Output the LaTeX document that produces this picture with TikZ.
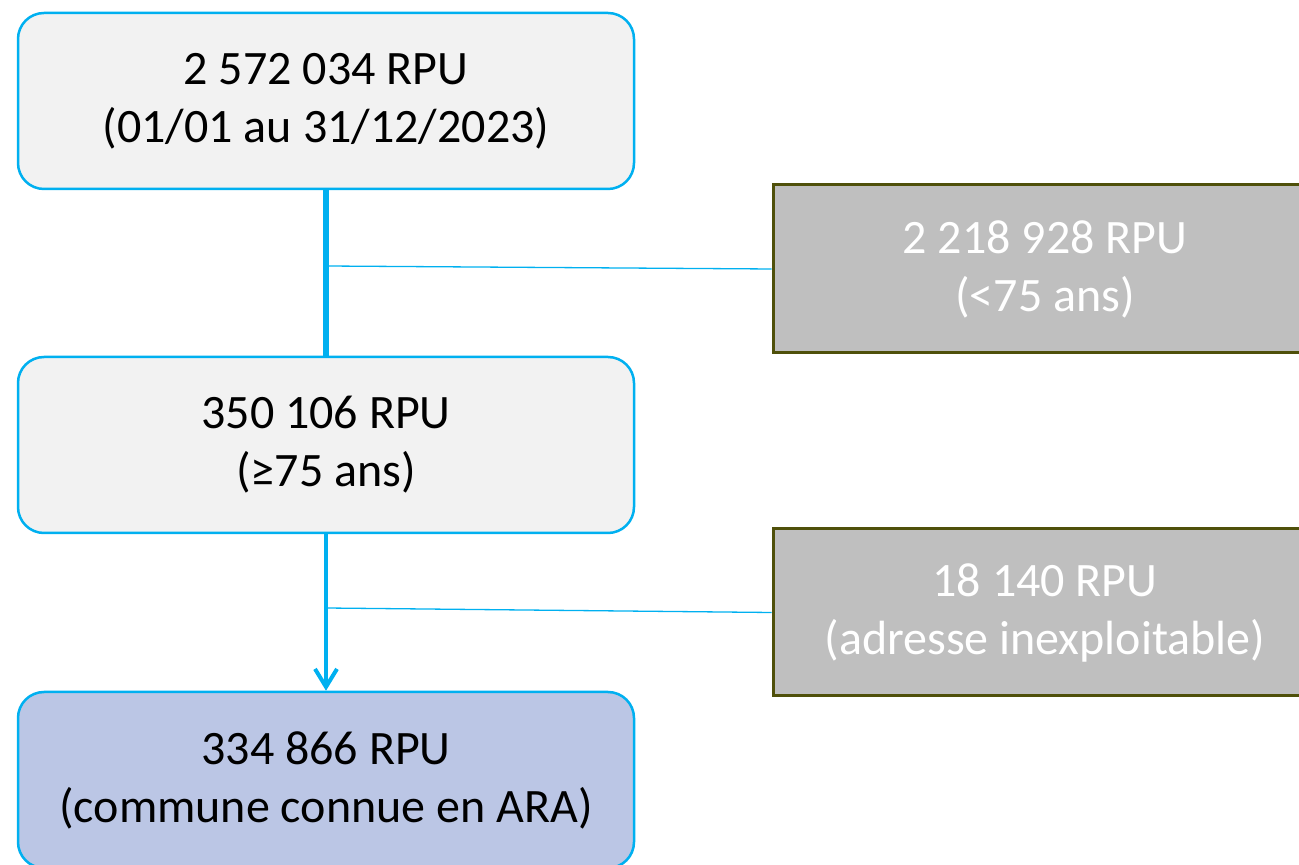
\documentclass[tikz,border=0pt]{standalone}
\usepackage{fontspec}
\setmainfont{Carlito}
\usetikzlibrary{arrows.meta}
\definecolor{cblue}{RGB}{0,176,240}
\definecolor{lightfill}{RGB}{242,242,242}
\definecolor{bluefill}{RGB}{187,198,229}
\definecolor{greyfill}{RGB}{191,191,191}
\definecolor{olive}{RGB}{79,80,10}
\tikzset{
  x=1pt, y=1pt,
  mainbox/.style={draw=cblue, line width=2.5pt, rounded corners=26pt, minimum width=616pt, minimum height=176pt, align=center, inner sep=0pt, font=\fontsize{48}{58}\selectfont},
  sidebox/.style={draw=olive, fill=greyfill, line width=3pt, minimum width=544pt, minimum height=168pt, align=center, inner sep=0pt, text=white, font=\fontsize{48}{58}\selectfont},
  thinline/.style={draw=cblue, line width=1.3pt},
}
\begin{document}
\begin{tikzpicture}
\useasboundingbox (0,0) rectangle (1299,865);
\clip (0,0) rectangle (1299,865);
\node[mainbox, fill=lightfill] (b1) at (326,764) {2 572 034 RPU\\(01/01 au 31/12/2023)};
\node[mainbox, fill=lightfill] (b2) at (326,420) {350 106 RPU\\(≥75 ans)};
\node[mainbox, fill=bluefill] (b3) at (326,85) {334 866 RPU\\(commune connue en ARA)};
\node[sidebox] (g1) at (1045,596) {2 218 928 RPU\\(<75 ans)};
\node[sidebox, minimum height=167pt] (g2) at (1045,252.5) {18 140 RPU\\(adresse inexploitable)};
\draw[cblue, line width=6pt] (b1.south) -- (b2.north);
\draw[cblue, line width=4pt, -{Straight Barb[length=18pt,width=22pt]}] (b2.south) -- (b3.north);
\coordinate (j1) at (326,599);
\coordinate (j2) at (326,257);
\draw[thinline] (j1) -- (g1.west);
\draw[thinline] (j2) -- (g2.west);
\end{tikzpicture}
\end{document}
